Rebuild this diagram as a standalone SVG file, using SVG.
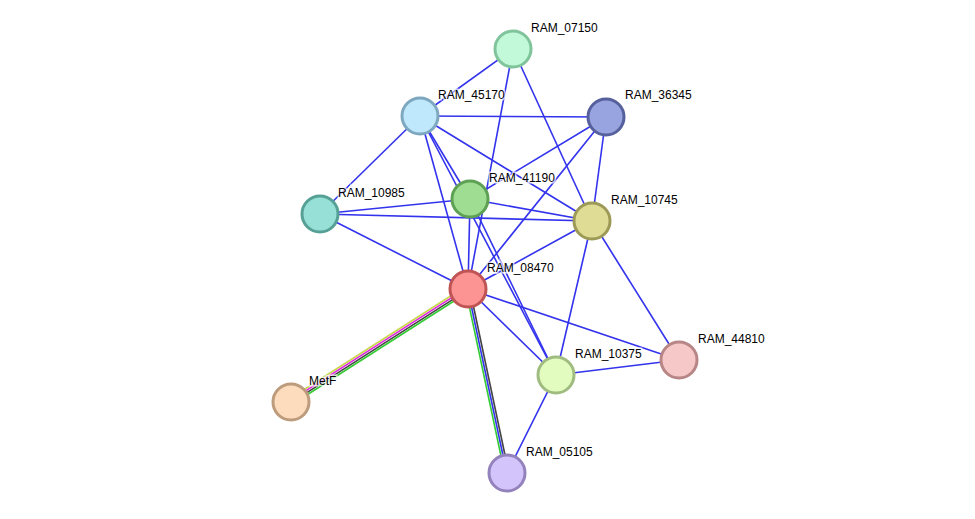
<svg xmlns="http://www.w3.org/2000/svg" width="975" height="519" viewBox="0 0 975 519">
<style>
.e{stroke:#3333ee;stroke-width:1.6;fill:none}
.n circle{stroke-width:3}
text{font-family:"Liberation Sans",Arial,sans-serif;font-size:12px;fill:#000;paint-order:stroke;stroke:#fff;stroke-width:3px;stroke-opacity:0.7}
</style>
<rect width="975" height="519" fill="#fff"/>
<g id="edges">
<line class="e" x1="513" y1="49" x2="420" y2="116"/>
<line class="e" x1="513" y1="49" x2="468" y2="289"/>
<line class="e" x1="513" y1="49" x2="592" y2="221"/>
<line class="e" x1="420" y1="116" x2="606" y2="117"/>
<line class="e" x1="420" y1="116" x2="470" y2="199"/>
<line class="e" x1="420" y1="116" x2="592" y2="221"/>
<line class="e" x1="420" y1="116" x2="468" y2="289"/>
<line class="e" x1="420" y1="116" x2="556" y2="375"/>
<line class="e" x1="420" y1="116" x2="320" y2="214"/>
<line class="e" x1="606" y1="117" x2="470" y2="199"/>
<line class="e" x1="606" y1="117" x2="592" y2="221"/>
<line class="e" x1="606" y1="117" x2="468" y2="289"/>
<line class="e" x1="470" y1="199" x2="320" y2="214"/>
<line class="e" x1="470" y1="199" x2="592" y2="221"/>
<line class="e" x1="470" y1="199" x2="468" y2="289"/>
<line class="e" x1="470" y1="199" x2="556" y2="375"/>
<line class="e" x1="320" y1="214" x2="592" y2="221"/>
<line class="e" x1="320" y1="214" x2="468" y2="289"/>
<line class="e" x1="592" y1="221" x2="468" y2="289"/>
<line class="e" x1="592" y1="221" x2="556" y2="375"/>
<line class="e" x1="592" y1="221" x2="679" y2="360"/>
<line class="e" x1="468" y1="289" x2="556" y2="375"/>
<line class="e" x1="468" y1="289" x2="679" y2="360"/>
<line class="e" x1="556" y1="375" x2="679" y2="360"/>
<line class="e" x1="556" y1="375" x2="507" y2="473"/>
<g stroke-width="1.6">
<line x1="466.3" y1="286" x2="289.3" y2="399" stroke="#c8d84c"/>
<line x1="467.4" y1="287.7" x2="290.4" y2="400.7" stroke="#e020e0"/>
<line x1="468.6" y1="289.3" x2="291.6" y2="402.3" stroke="#444"/>
<line x1="469.7" y1="291" x2="292.7" y2="404" stroke="#33cc33"/>
<line x1="465.7" y1="289.5" x2="504.7" y2="473.5" stroke="#33cc33"/>
<line x1="467.7" y1="289" x2="506.7" y2="473" stroke="#3333ee"/>
<line x1="469.7" y1="288.5" x2="508.7" y2="472.5" stroke="#444"/>
</g>
</g>
<g id="RAM_07150" class="n"><circle cx="513" cy="49" r="18" fill="#c1f9d9" stroke="#80c49c"/><text x="531" y="32">RAM_07150</text></g>
<g id="RAM_45170" class="n"><circle cx="420" cy="116" r="18" fill="#c0e8fc" stroke="#7ea8c0"/><text x="438" y="99">RAM_45170</text></g>
<g id="RAM_36345" class="n"><circle cx="606" cy="117" r="18" fill="#98a4e0" stroke="#56609c"/><text x="625" y="99">RAM_36345</text></g>
<g id="RAM_41190" class="n"><circle cx="470" cy="199" r="18" fill="#9fde92" stroke="#5ea054"/><text x="489" y="182">RAM_41190</text></g>
<g id="RAM_10985" class="n"><circle cx="320" cy="214" r="18" fill="#96e0d8" stroke="#56a096"/><text x="338" y="197">RAM_10985</text></g>
<g id="RAM_10745" class="n"><circle cx="592" cy="221" r="18" fill="#dfdc96" stroke="#9c9a56"/><text x="611" y="204">RAM_10745</text></g>
<g id="RAM_08470" class="n"><circle cx="468" cy="289" r="18" fill="#fc9494" stroke="#c05454"/><text x="487" y="272">RAM_08470</text></g>
<g id="RAM_44810" class="n"><circle cx="679" cy="360" r="18" fill="#f6c8c8" stroke="#b88686"/><text x="698" y="343">RAM_44810</text></g>
<g id="RAM_10375" class="n"><circle cx="556" cy="375" r="18" fill="#e2fcc0" stroke="#a0bc80"/><text x="575" y="358">RAM_10375</text></g>
<g id="MetF" class="n"><circle cx="291" cy="402" r="18" fill="#fcdcbc" stroke="#bc9c7c"/><text x="309" y="385">MetF</text></g>
<g id="RAM_05105" class="n"><circle cx="507" cy="473" r="18" fill="#d4c4fc" stroke="#9482bc"/><text x="526" y="456">RAM_05105</text></g>
</svg>
